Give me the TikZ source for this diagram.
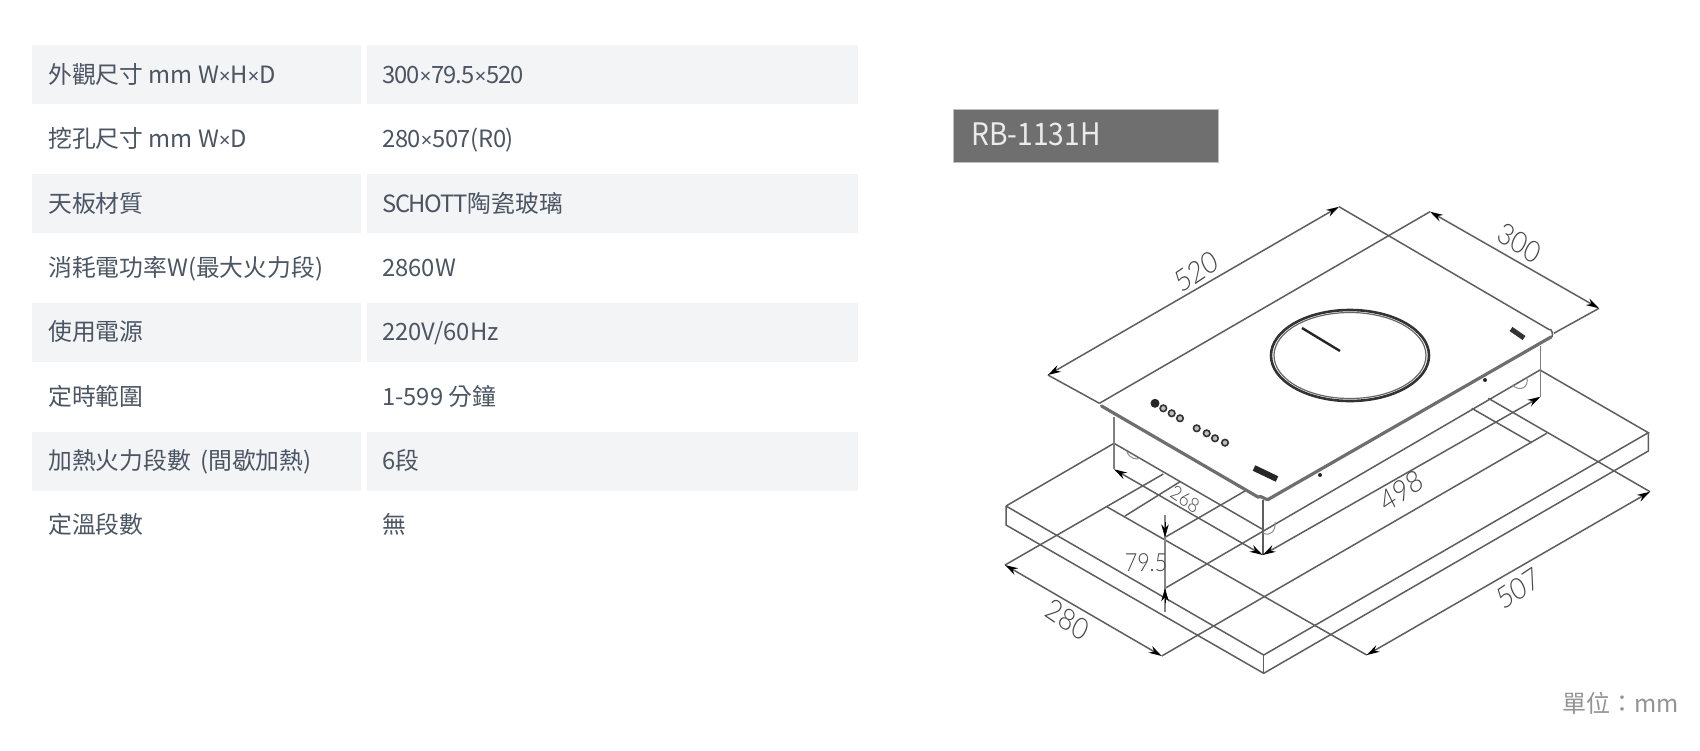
\documentclass[tikz,border=0pt]{standalone}
\usepackage{fontspec}
\usetikzlibrary{arrows.meta}
\setmainfont{Noto Sans CJK TC}
\newfontfamily\dimfont{Lato}[UprightFont=* Light]
\newfontfamily\latfont{Noto Sans}
\newcommand{\tms}{{\latfont\fontsize{20pt}{22pt}\selectfont ×}}
\definecolor{rowfill}{HTML}{F3F4F6}
\definecolor{ink}{HTML}{4B5563}
\definecolor{linegray}{HTML}{5E5E5E}
\definecolor{badge}{HTML}{6F6F6F}
\tikzset{
  cellbox/.style={fill=rowfill,draw=none,inner sep=0pt,minimum height=58.4pt,anchor=north west},
  leftbox/.style={cellbox,minimum width=329pt},
  rightbox/.style={cellbox,minimum width=491pt},
  celltext/.style={anchor=base west,inner sep=0pt,text=ink,font=\fontsize{23.8pt}{26pt}\selectfont},
  ln/.style={draw=linegray,line width=1.5pt},
  edge/.style={draw=linegray!90,line width=3.2pt},
  dimline/.style={ln,{Stealth[length=13pt,width=7.5pt,color=black]}-{Stealth[length=13pt,width=7.5pt,color=black]}},
  dimlabel/.style={inner sep=0pt,text=black!72,font=\dimfont\fontsize{30pt}{32pt}\selectfont,xscale=.86},
  foot/.style={draw=linegray!70,line width=1pt},
  knob/.style={draw=black!80,line width=1.6pt,fill=black!25,inner sep=0pt,minimum size=6.5pt,circle},
  vtip/.style={draw=black,line width=.5pt,-{Stealth[length=13pt,width=7.5pt,color=black]}},
}
\begin{document}
\begin{tikzpicture}[x=1pt,y=-1pt]
\useasboundingbox[fill=white] (0,0) rectangle (1700,750);
% table fills
\node[leftbox]  (l1) at (32,45) {};   \node[rightbox] (r1) at (367,45) {};
\node[leftbox]  (l3) at (32,174) {};  \node[rightbox] (r3) at (367,174) {};
\node[leftbox]  (l5) at (32,303) {};  \node[rightbox] (r5) at (367,303) {};
\node[leftbox]  (l7) at (32,432) {};  \node[rightbox] (r7) at (367,432) {};
% table texts
\node[celltext] (t1a) at (48,83)    {外觀尺寸 mm W\tms H\tms D};
\node[celltext] (t1b) at (382,83)   {\addfontfeature{LetterSpace=-4}300\tms 79.5\tms 520};
\node[celltext] (t2a) at (48,147)   {挖孔尺寸 mm W\tms D};
\node[celltext] (t2b) at (382,147)  {\addfontfeature{LetterSpace=-1.8}280\tms 507(R0)};
\node[celltext] (t3a) at (48,212)   {天板材質};
\node[celltext] (t3b) at (382,212)  {{\addfontfeature{LetterSpace=-5.5}SCHOTT}陶瓷玻璃};
\node[celltext] (t4a) at (48,276)   {消耗電功率W(最大火力段)};
\node[celltext] (t4b) at (382,276)  {2860W};
\node[celltext] (t5a) at (48,340)   {使用電源};
\node[celltext] (t5b) at (382,340)  {220V/60Hz};
\node[celltext] (t6a) at (48,405)   {定時範圍};
\node[celltext] (t6b) at (382,405)  {1-599 分鐘};
\node[celltext] (t7a) at (48,469)   {加熱火力段數\hspace{4pt} (間歇加熱)};
\node[celltext] (t7b) at (382,469)  {6段};
\node[celltext] (t8a) at (48,533)   {定溫段數};
\node[celltext] (t8b) at (382,533)  {無};
% model badge
\fill[badge,draw=black!25,line width=.8pt] (953,109) rectangle (1218.5,162);
\node[anchor=base west,inner sep=0pt,text=white!92!black,font=\fontsize{31pt}{33pt}\selectfont,xscale=.91] (model) at (971,145) {RB-1131H};
% named points
\coordinate (slabL) at (1006,506);   \coordinate (slabLb) at (1006,525);
\coordinate (slabF) at (1263.7,655); \coordinate (slabFb) at (1263.7,673.3);
\coordinate (slabR) at (1648.3,432.7); \coordinate (slabRb) at (1648.3,451);
\coordinate (slabBL) at (1114,443.3); \coordinate (slabBR) at (1540,370);
\coordinate (slabBi) at (1262,529);
\coordinate (hobL) at (1099.4,403.3); \coordinate (hobR) at (1553.8,333.3);
\coordinate (hobF) at (1265,500);
\coordinate (d520a) at (1047.9,375); \coordinate (d520b) at (1339,206.7);
\coordinate (d300a) at (1430,211.7); \coordinate (d300b) at (1599,308.3);
\coordinate (d268a) at (1114,469.3); \coordinate (dFront) at (1262.7,555);
\coordinate (d498b) at (1540.5,396.7);
\coordinate (d280a) at (1005,565);   \coordinate (d280b) at (1161.7,656);
\coordinate (d507a) at (1366.7,655); \coordinate (d507b) at (1650,491.7);
\coordinate (cutC) at (1106.7,506.7); \coordinate (cutI) at (1125,516);
\coordinate (cutA1) at (1163.3,474);  \coordinate (cutA2) at (1180,481.7);
\coordinate (cutR) at (1546.7,433.3); \coordinate (cutRi) at (1531.7,442.7);
\coordinate (eA) at (1471.7,408.3);   \coordinate (eB) at (1488.3,398.3);
\coordinate (h1) at (1165,537.3);     \coordinate (h2) at (1165,588.3);
\coordinate (dEnd) at (1246.7,490);
% slab
\draw[ln] (slabL) -- (slabF) -- (slabR) -- (slabBR) -- (h2);
\draw[ln] (slabL) -- (slabLb) -- (slabFb) -- (slabRb) -- (slabR);
\draw[ln] (slabF) -- (slabFb);
\draw[ln] (slabL) -- (slabBL) -- (slabBi);
% cut-out and extension lines
\draw[ln] (d280a) -- (cutA1);
\draw[ln] (d280b) -- (cutR);
\draw[ln] (cutC) -- (d507a);
\draw[ln] (cutI) -- (cutA2);
\draw[ln] (eA) -- (cutRi);
\draw[ln] (eB) -- (d507b);
\draw[ln] (h1) -- (dEnd);
% unit body
\draw[ln,line width=2.2pt,draw=linegray!80] (1114,417) -- (d268a);
\draw[ln,line width=1.8pt] (1262.7,500) -- (dFront);
\draw[ln,line width=1.8pt,draw=linegray!80] (1540.5,346) -- (d498b);
% feet
\draw[foot] (1127,452) .. controls (1130,459) and (1137,460) .. (1140,458);
\draw[foot] (1263,533) .. controls (1271,537) and (1276,530) .. (1275,522);
\draw[foot] (1512,385) .. controls (1520,392) and (1529,388) .. (1527,377);
% hob top
\draw[ln] (d520a) -- (hobL);
\draw[ln] (d520b) -- (1549,329.5);
\draw[ln] (hobL) -- (d300a);
\draw[ln] (d300b) -- (hobR);
\draw[edge,line cap=round] (1101.5,406) -- (1258,497) to[out=28,in=180] (1268,499.5) -- (1551,337);
\draw[ln] (1549,329.5) to[out=30,in=70] (1552,337);
% dimensions
\draw[dimline] (d520a) -- (d520b);
\draw[dimline] (d300a) -- (d300b);
\draw[dimline] (d268a) -- (dFront);
\draw[dimline] (dFront) -- (d498b);
\draw[dimline] (d280a) -- (d280b);
\draw[dimline] (d507a) -- (d507b);
\draw[ln,line width=1.8pt,draw=linegray!75] (1165,515) -- (1165,612);
\coordinate (ar1) at (1165,522); \coordinate (ar2) at (1165,603);
\draw[vtip] (ar1) -- (h1);
\draw[vtip] (ar2) -- (h2);
% dimension labels
\node[dimlabel,rotate=30] (n520) at (1196,271.7) {520};
\node[dimlabel,rotate=-30] (n300) at (1519.4,243) {300};
\node[dimlabel,rotate=-30,font=\dimfont\fontsize{20pt}{22pt}\selectfont] (n268) at (1185,499) {268};
\node[dimlabel,rotate=30] (n498) at (1401.3,491) {498};
\node[dimlabel,font=\dimfont\fontsize{25pt}{27pt}\selectfont] (n795) at (1146,563) {79.5};
\node[dimlabel,rotate=-30] (n280) at (1067.3,619.7) {280};
\node[dimlabel,rotate=30] (n507) at (1518.7,588.7) {507};
% hob details
\draw[draw=black!80,line width=2.6pt] (1350,355.5) ellipse [x radius=79,y radius=45.5];
\draw[draw=black!60,line width=1.2pt] (1350,355.5) ellipse [x radius=76,y radius=43];
\draw[line width=2.4pt,draw=black!85] (1302,328) -- (1340,351);
\draw[line width=5pt,draw=black!80] (1511,329) -- (1524,338);
\fill[black!85] (1155,403.3) circle (4.5pt);
\foreach \p in {(1163.3,408.3),(1171.7,413.3),(1180,418.3),(1196.7,428.3),(1206.7,433.3),(1215,438.3),(1225,442.7)}
  \node[knob] at \p {};
\draw[line width=6pt,draw=black!85] (1254,468) -- (1277,479);
\fill[black!85] (1320,475) circle (2pt) (1485,380) circle (2pt);
% unit note
\node[anchor=base east,inner sep=0pt,text=black!42,font=\fontsize{24pt}{26pt}\selectfont] (unit) at (1679,712) {單位：mm};
\end{tikzpicture}
\end{document}
